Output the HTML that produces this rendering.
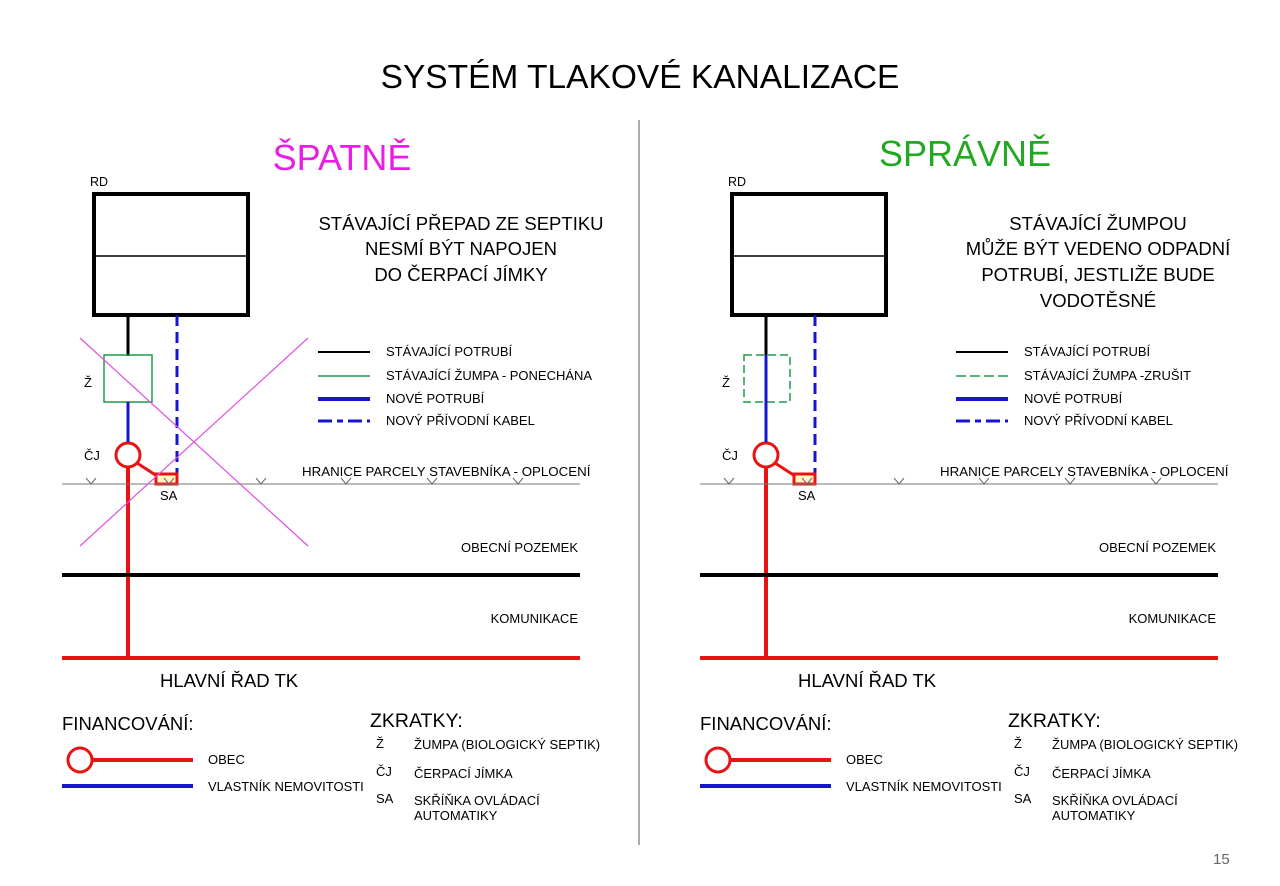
<!DOCTYPE html>
<html><head><meta charset="utf-8"><style>
body{margin:0;background:#fff}
svg{display:block}
text{font-family:"Liberation Sans",sans-serif;fill:#000}
</style></head><body>
<svg width="1280" height="886" viewBox="0 0 1280 886" xmlns="http://www.w3.org/2000/svg">
<text x="640" y="88" font-size="33.5" text-anchor="middle">SYSTÉM TLAKOVÉ KANALIZACE</text>
<line x1="639" y1="120" x2="639" y2="845" stroke="#555" stroke-width="1"/>
<text x="1213" y="864" font-size="15" style="fill:#666">15</text>

<defs>
<g id="common">
  <text x="90" y="186" font-size="12.5">RD</text>
  <rect x="94" y="194" width="154" height="121" fill="none" stroke="#000" stroke-width="4"/>
  <line x1="94" y1="256" x2="248" y2="256" stroke="#000" stroke-width="1.5"/>
  <line x1="128" y1="315" x2="128" y2="356" stroke="#000" stroke-width="3"/>
  <text x="84" y="387" font-size="13">Ž</text>
  <line x1="177" y1="315" x2="177" y2="476" stroke="#1515d0" stroke-width="3" stroke-dasharray="11,6"/>
  <text x="84" y="460" font-size="13">ČJ</text>
  <line x1="128" y1="467" x2="128" y2="660" stroke="#e81414" stroke-width="4"/>
  <circle cx="128" cy="455" r="12" fill="#fff" stroke="#e81414" stroke-width="3"/>
  <line x1="137" y1="463" x2="157" y2="476" stroke="#e81414" stroke-width="3"/>
  <rect x="156" y="474" width="21" height="10" fill="#fff8c0" stroke="#e81414" stroke-width="3"/>
  <text x="160" y="500" font-size="13">SA</text>
  <line x1="62" y1="484" x2="580" y2="484" stroke="#777" stroke-width="1"/>
  <path d="M86 478l5 6 5-6M164 478l5 6 5-6M256 478l5 6 5-6M341 478l5 6 5-6M427 478l5 6 5-6M513 478l5 6 5-6" fill="none" stroke="#666" stroke-width="1"/>
  <text x="302" y="476" font-size="13.3">HRANICE PARCELY STAVEBNÍKA - OPLOCENÍ</text>
  <text x="578" y="552" font-size="13" text-anchor="end">OBECNÍ POZEMEK</text>
  <line x1="62" y1="575" x2="580" y2="575" stroke="#000" stroke-width="4"/>
  <text x="578" y="623" font-size="13" text-anchor="end">KOMUNIKACE</text>
  <line x1="62" y1="658" x2="580" y2="658" stroke="#e81414" stroke-width="4"/>
  <text x="160" y="687" font-size="18.5">HLAVNÍ ŘAD TK</text>
  <line x1="318" y1="352" x2="370" y2="352" stroke="#000" stroke-width="2"/>
  <text x="386" y="356" font-size="13">STÁVAJÍCÍ POTRUBÍ</text>
  <line x1="318" y1="399" x2="370" y2="399" stroke="#1515d0" stroke-width="4"/>
  <text x="386" y="403" font-size="13">NOVÉ POTRUBÍ</text>
  <line x1="318" y1="421" x2="370" y2="421" stroke="#1515d0" stroke-width="3" stroke-dasharray="14,5,6,5"/>
  <text x="386" y="425" font-size="13">NOVÝ PŘÍVODNÍ KABEL</text>
  <text x="62" y="730" font-size="18.5">FINANCOVÁNÍ:</text>
  <line x1="92" y1="760" x2="193" y2="760" stroke="#e81414" stroke-width="4"/>
  <circle cx="80" cy="760" r="12" fill="#fff" stroke="#e81414" stroke-width="3"/>
  <text x="208" y="764" font-size="13">OBEC</text>
  <line x1="62" y1="786" x2="193" y2="786" stroke="#1515d0" stroke-width="4"/>
  <text x="208" y="791" font-size="13">VLASTNÍK NEMOVITOSTI</text>
  <text x="370" y="727" font-size="19.5">ZKRATKY:</text>
  <text x="376" y="748" font-size="13">Ž</text><text x="414" y="749" font-size="13">ŽUMPA (BIOLOGICKÝ SEPTIK)</text>
  <text x="376" y="776" font-size="13">ČJ</text><text x="414" y="778" font-size="13">ČERPACÍ JÍMKA</text>
  <text x="376" y="803" font-size="13">SA</text><text x="414" y="805" font-size="13">SKŘÍŇKA OVLÁDACÍ</text>
  <text x="414" y="820" font-size="13">AUTOMATIKY</text>
</g>
</defs>

<use href="#common"/>
<text x="342" y="170" font-size="36" text-anchor="middle" style="fill:#e81ee8">ŠPATNĚ</text>
<text x="461" y="230" font-size="18.5" text-anchor="middle">STÁVAJÍCÍ PŘEPAD ZE SEPTIKU</text>
<text x="461" y="255" font-size="18.5" text-anchor="middle">NESMÍ BÝT NAPOJEN</text>
<text x="461" y="281" font-size="18.5" text-anchor="middle">DO ČERPACÍ JÍMKY</text>
<rect x="104" y="355" width="48" height="47" fill="none" stroke="#1f9a4a" stroke-width="1.5"/>
<line x1="128" y1="402" x2="128" y2="442" stroke="#1515d0" stroke-width="3"/>
<line x1="318" y1="376" x2="370" y2="376" stroke="#1f9a4a" stroke-width="1.5"/>
<text x="386" y="380" font-size="13">STÁVAJÍCÍ ŽUMPA - PONECHÁNA</text>
<line x1="80" y1="338" x2="308" y2="546" stroke="#e050e0" stroke-width="1.2"/>
<line x1="308" y1="338" x2="80" y2="546" stroke="#e050e0" stroke-width="1.2"/>

<g transform="translate(638,0)">
<use href="#common"/>
<text x="327" y="166" font-size="36" text-anchor="middle" style="fill:#22a822">SPRÁVNĚ</text>
<text x="460" y="230" font-size="18.5" text-anchor="middle">STÁVAJÍCÍ ŽUMPOU</text>
<text x="460" y="255" font-size="18.5" text-anchor="middle">MŮŽE BÝT VEDENO ODPADNÍ</text>
<text x="460" y="281" font-size="18.5" text-anchor="middle">POTRUBÍ, JESTLIŽE BUDE</text>
<text x="460" y="307" font-size="18.5" text-anchor="middle">VODOTĚSNÉ</text>
<rect x="106" y="355" width="46" height="47" fill="none" stroke="#1f9a4a" stroke-width="1.5" stroke-dasharray="8,4"/>
<line x1="128" y1="355" x2="128" y2="442" stroke="#1515d0" stroke-width="3"/>
<line x1="318" y1="376" x2="370" y2="376" stroke="#1f9a4a" stroke-width="1.5" stroke-dasharray="10,4"/>
<text x="386" y="380" font-size="13">STÁVAJÍCÍ ŽUMPA -ZRUŠIT</text>
</g>
</svg>
</body></html>
